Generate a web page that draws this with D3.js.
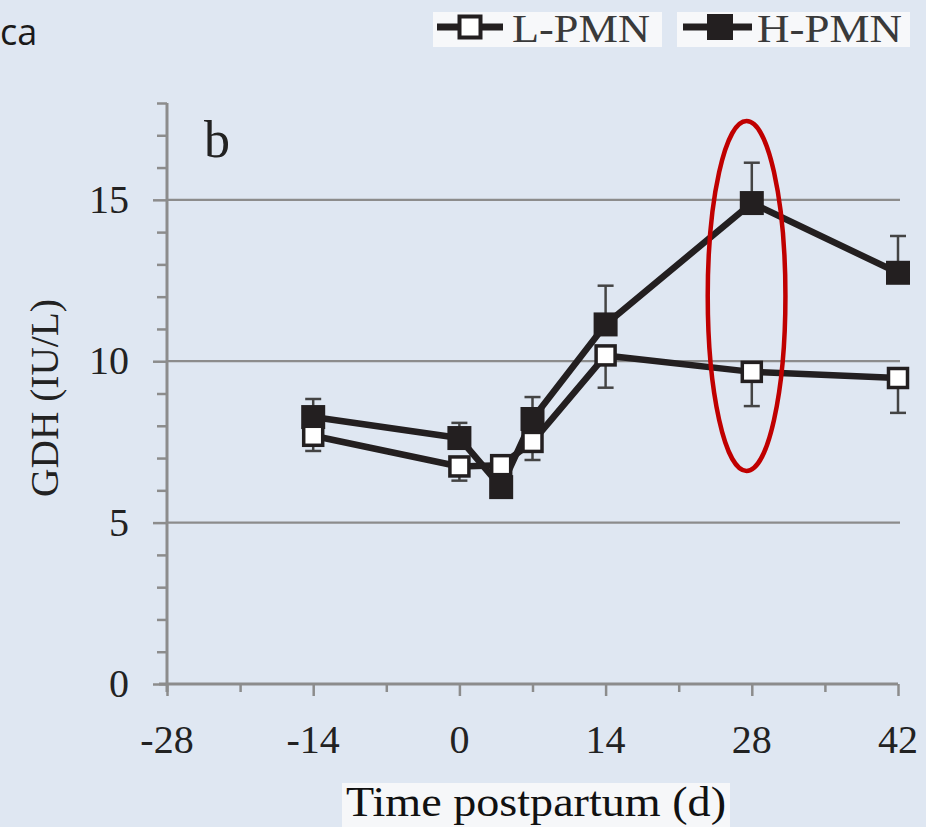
<!DOCTYPE html>
<html>
<head>
<meta charset="utf-8">
<script src="https://cdn.jsdelivr.net/npm/d3@7"></script>
<style>
  html, body { margin: 0; padding: 0; background: #dfe7f2; }
  svg { display: block; }
</style>
</head>
<body>
<svg id="chart" width="926" height="827"></svg>
<script>
// ---- data ----
const days = [-14, 0, 4, 7, 14, 28, 42];
const lowPMN = [7.69, 6.74, 6.78, 7.5, 10.18, 9.67, 9.48];
const lowPMNerr = [0.47, 0.44, 0, 0.56, 1.0, 1.06, 1.08];
const highPMN = [8.27, 7.62, 6.1, 8.21, 11.14, 14.9, 12.74];
const highPMNerr = [0.56, 0.47, 0, 0.68, 1.2, 1.25, 1.14];
const xTicks = [-28, -14, 0, 14, 28, 42];
const yTicks = [0, 5, 10, 15];
const seriesNames = ["L-PMN", "H-PMN"];
// annotation ellipse around day 28 (data units)
const highlight = { day: 27.5, value: 12.02, dayRadius: 3.72, valueRadius: 5.42 };

const svg = d3.select("#chart");
const serif = "'Liberation Serif', 'Times New Roman', serif";
const axisColor = "#8c8c8c";
const ink = "#231f20";

const x = d3.scaleLinear().domain([-28, 42]).range([167, 898]);
const y = d3.scaleLinear().domain([0, 18]).range([684, 103]);

// background
svg.append("rect").attr("width", 926).attr("height", 827).attr("fill", "#dfe7f2");

// corner text
svg.append("text").attr("x", 0).attr("y", 45)
  .attr("font-family", "'Open Sans', sans-serif").attr("font-size", 36)
  .attr("fill", "#1a1a1a").text("ca");

// gridlines
svg.append("g").selectAll("line").data(yTicks.filter(d => d > 0)).join("line")
  .attr("x1", x(-28)).attr("x2", x(42) + 2)
  .attr("y1", d => y(d)).attr("y2", d => y(d))
  .attr("stroke", axisColor).attr("stroke-width", 2.2);

// y axis
const yAxis = svg.append("g").attr("transform", `translate(${x(-28)},0)`)
  .call(d3.axisLeft(y).tickValues(d3.range(0, 19, 1)).tickSize(10).tickFormat(""));
yAxis.selectAll("line").attr("stroke", axisColor).attr("stroke-width", 2.5);
yAxis.selectAll(".tick").filter(d => yTicks.includes(d)).select("line").attr("x2", -14);
yAxis.select(".domain").attr("stroke", axisColor).attr("stroke-width", 3)
  .attr("d", `M0,${y(18)}V${y(0) + 8}`);
svg.append("g").selectAll("text").data(yTicks).join("text")
  .attr("x", 129).attr("y", d => y(d) + 13)
  .attr("text-anchor", "end").attr("font-family", serif).attr("font-size", 40)
  .attr("fill", "#222").text(d => d);

// x axis
const xAxis = svg.append("g").attr("transform", `translate(0,${y(0)})`)
  .call(d3.axisBottom(x).tickValues(d3.range(-28, 43, 7)).tickSize(8).tickFormat(""));
xAxis.selectAll("line").attr("stroke", axisColor).attr("stroke-width", 2.5);
xAxis.selectAll(".tick").filter(d => xTicks.includes(d)).select("line").attr("y2", 12);
xAxis.select(".domain").attr("stroke", axisColor).attr("stroke-width", 3)
  .attr("d", `M${x(-28) - 8},0H${x(42)}`);
svg.append("g").selectAll("text").data(xTicks).join("text")
  .attr("x", d => x(d)).attr("y", 753)
  .attr("text-anchor", "middle").attr("font-family", serif).attr("font-size", 40)
  .attr("fill", "#222").text(d => d);

// axis titles
svg.append("text")
  .attr("transform", "translate(58,398) rotate(-90)")
  .attr("text-anchor", "middle").attr("font-family", serif).attr("font-size", 40)
  .attr("textLength", 198).attr("lengthAdjust", "spacingAndGlyphs")
  .attr("fill", "#222").text("GDH (IU/L)");

svg.append("rect").attr("x", 342).attr("y", 783).attr("width", 388).attr("height", 44)
  .attr("fill", "#f6f7f9");
svg.append("text").attr("x", 536).attr("y", 816)
  .attr("text-anchor", "middle").attr("font-family", serif).attr("font-size", 42)
  .attr("textLength", 380).attr("lengthAdjust", "spacingAndGlyphs")
  .attr("fill", "#111").text("Time postpartum (d)");

// panel letter
svg.append("text").attr("x", 204).attr("y", 157)
  .attr("font-family", serif).attr("font-size", 52).attr("fill", "#222").text("b");

// series
const series = [
  { name: seriesNames[1], vals: highPMN, err: highPMNerr, dir: 1, filled: true },
  { name: seriesNames[0], vals: lowPMN, err: lowPMNerr, dir: -1, filled: false }
];
const line = d3.line().x((d, i) => x(days[i])).y(d => y(d));

// error bars
series.forEach(s => {
  const g = svg.append("g").attr("stroke", "#444").attr("stroke-width", 2.5);
  days.forEach((d, i) => {
    if (s.err[i] <= 0) return;
    const end = s.vals[i] + s.dir * s.err[i];
    g.append("line").attr("x1", x(d)).attr("x2", x(d))
      .attr("y1", y(s.vals[i])).attr("y2", y(end));
    g.append("line").attr("x1", x(d) - 8).attr("x2", x(d) + 8)
      .attr("y1", y(end)).attr("y2", y(end));
  });
});

// lines
series.forEach(s => {
  svg.append("path").datum(s.vals).attr("d", line)
    .attr("fill", "none").attr("stroke", ink).attr("stroke-width", 6.5)
    .attr("stroke-linejoin", "round");
});

// markers
series.forEach(s => {
  svg.append("g").selectAll("rect").data(s.vals).join("rect")
    .attr("x", (d, i) => x(days[i]) - (s.filled ? 12 : 9.5))
    .attr("y", d => y(d) - (s.filled ? 12 : 9.5))
    .attr("width", s.filled ? 24 : 19).attr("height", s.filled ? 24 : 19)
    .attr("fill", s.filled ? ink : "#ffffff")
    .attr("stroke", s.filled ? "none" : ink).attr("stroke-width", 3.5);
});

// highlight ellipse
svg.append("ellipse")
  .attr("cx", x(highlight.day)).attr("cy", y(highlight.value))
  .attr("rx", x(highlight.day + highlight.dayRadius) - x(highlight.day))
  .attr("ry", y(highlight.value - highlight.valueRadius) - y(highlight.value))
  .attr("fill", "none").attr("stroke", "#c00000").attr("stroke-width", 4.5);

// legend
const legendItems = [
  { name: seriesNames[0], filled: false, box: [433, 229], lx: [437, 503], mx: 470, tx: 512, tw: 138 },
  { name: seriesNames[1], filled: true, box: [677, 233], lx: [683, 752], mx: 720, tx: 757, tw: 145 }
];
legendItems.forEach(it => {
  const g = svg.append("g");
  g.append("rect").attr("x", it.box[0]).attr("y", 12).attr("width", it.box[1]).attr("height", 35)
    .attr("fill", "#f7f8fa");
  g.append("line").attr("x1", it.lx[0]).attr("x2", it.lx[1]).attr("y1", 27).attr("y2", 27)
    .attr("stroke", ink).attr("stroke-width", 7);
  g.append("rect")
    .attr("x", it.mx - (it.filled ? 13 : 10.5)).attr("y", 27 - (it.filled ? 13 : 10.5))
    .attr("width", it.filled ? 26 : 21).attr("height", it.filled ? 26 : 21)
    .attr("fill", it.filled ? ink : "#ffffff")
    .attr("stroke", it.filled ? "none" : ink).attr("stroke-width", 4);
  g.append("text").attr("x", it.tx).attr("y", 42)
    .attr("font-family", serif).attr("font-size", 40)
    .attr("textLength", it.tw).attr("lengthAdjust", "spacingAndGlyphs")
    .attr("fill", "#3a3a3a").text(it.name);
});
</script>
</body>
</html>
